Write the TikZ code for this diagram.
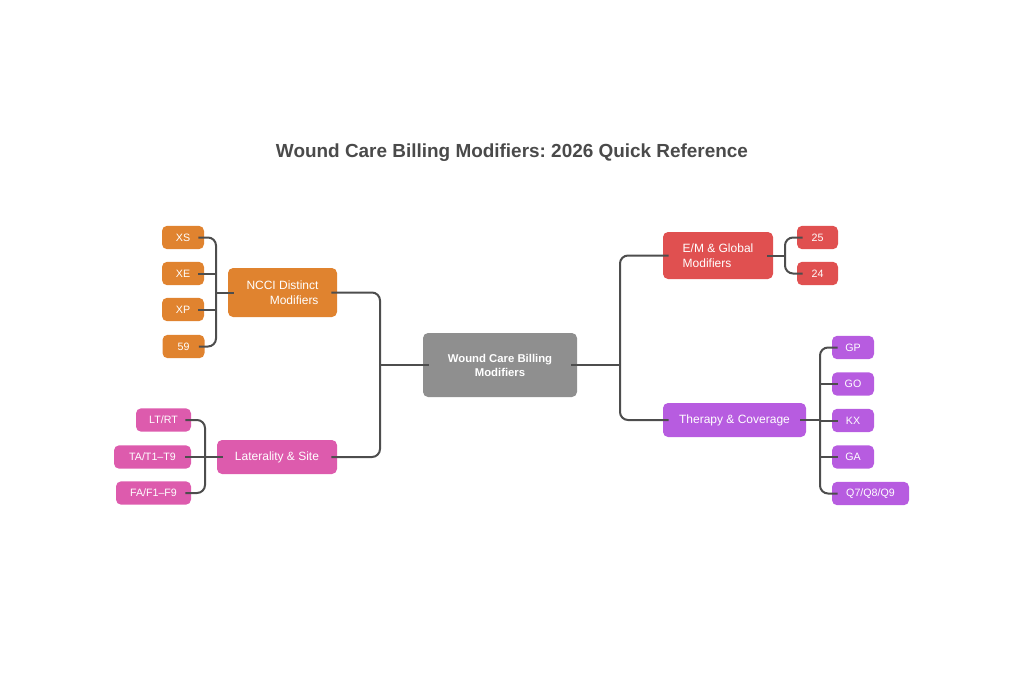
\documentclass[tikz,border=0pt]{standalone}
\usepackage{fontspec}
\setmainfont{Liberation Sans}
\usetikzlibrary{positioning}
\frenchspacing
\definecolor{hubgray}{HTML}{8F8F8F}
\definecolor{ncciorange}{HTML}{E0832F}
\definecolor{sitepink}{HTML}{DD5BAD}
\definecolor{emred}{HTML}{E05050}
\definecolor{therpurple}{HTML}{B75CE0}
\definecolor{linkgray}{HTML}{4D4D4D}
\definecolor{titlegray}{HTML}{4A4A4A}

\begin{document}
\begin{tikzpicture}[
  x=0.75pt, y=-0.75pt,
  base/.style={rounded corners=3.8pt, text=white, inner sep=0pt, align=center},
  hub/.style={base, fill=hubgray, minimum width=115.5pt, minimum height=48pt, font=\fontsize{8.5}{10.5}\selectfont\bfseries},
  branch/.style={base, minimum height=25.5pt, font=\fontsize{9}{11}\selectfont},
  leaf/.style={base, minimum width=31.5pt, minimum height=17.5pt, font=\fontsize{8}{9.5}\selectfont},
  link/.style={draw=linkgray, line width=1.5pt, rounded corners=6pt}
]
  \useasboundingbox (0,0) rectangle (1024,683);

  \node[font=\fontsize{14.2}{17}\selectfont\bfseries, text=titlegray] (title) at (512,152.5)
    {Wound Care Billing Modifiers: 2026 Quick Reference};

  % centre and branches
  \node[hub] (hub) at (500,365) {Wound Care Billing\\Modifiers};
  \node[branch, fill=ncciorange, minimum width=81.75pt, minimum height=36.75pt, align=right] (ncci) at (282.5,292.5) {NCCI Distinct\\Modifiers};
  \node[branch, fill=sitepink, minimum width=90pt] (site) at (277,457) {Laterality \& Site};
  \node[branch, fill=emred, minimum width=82.5pt, minimum height=35.25pt, align=left] (em) at (718,255.5) {E/M \& Global\\Modifiers};
  \node[branch, fill=therpurple, minimum width=107.25pt] (ther) at (734.5,420) {Therapy \& Coverage};

  % leaves
  \node[leaf, fill=ncciorange] (xs) at (183,237.5) {XS};
  \node[leaf, fill=ncciorange] (xe) at (183,273.5) {XE};
  \node[leaf, fill=ncciorange] (xp) at (183,309.5) {XP};
  \node[leaf, fill=ncciorange] (m59) at (183.5,346.5) {59};
  \node[leaf, fill=sitepink, minimum width=41.25pt] (ltrt) at (163.5,420) {LT/RT};
  \node[leaf, fill=sitepink, minimum width=57.75pt] (toe) at (152.5,457) {TA/T1--T9};
  \node[leaf, fill=sitepink, minimum width=56.25pt] (fing) at (153.5,493) {FA/F1--F9};
  \node[leaf, fill=emred, minimum width=30.75pt] (m25) at (817.5,237.5) {25};
  \node[leaf, fill=emred, minimum width=30.75pt] (m24) at (817.5,273.5) {24};
  \node[leaf, fill=therpurple] (gp) at (853,347.5) {GP};
  \node[leaf, fill=therpurple] (go) at (853,384) {GO};
  \node[leaf, fill=therpurple] (kx) at (853,420.5) {KX};
  \node[leaf, fill=therpurple] (ga) at (853,457) {GA};
  \node[leaf, fill=therpurple, minimum width=57.75pt] (qmod) at (870.5,493.5) {Q7/Q8/Q9};

  % spines
  \coordinate (spineL) at (380,0);
  \coordinate (spineR) at (620,0);
  \coordinate (spineN) at (216,0);
  \coordinate (spineS) at (205,0);
  \coordinate (spineE) at (785,0);
  \coordinate (spineT) at (820,0);

  % hub to branches
  \draw[link] ([xshift=4.5pt]hub.west) -- (spineL |- hub.west);
  \draw[link] ([xshift=-4.5pt]ncci.east) -| (spineL |- site.east) -- ([xshift=-4.5pt]site.east);
  \draw[link] ([xshift=-4.5pt]hub.east) -- (spineR |- hub.east);
  \draw[link] ([xshift=4.5pt]em.west) -| (spineR |- ther.west) -- ([xshift=4.5pt]ther.west);

  % branches to leaves
  \draw[link] ([xshift=-4.5pt]xs.east) -| (spineN |- m59.east) -- ([xshift=-4.5pt]m59.east);
  \foreach \n in {xe,xp}
    \draw[link] ([xshift=-4.5pt]\n.east) -- (spineN |- \n.east);
  \draw[link] ([xshift=4.5pt]ncci.west) -- (spineN |- ncci.west);

  \draw[link] ([xshift=-4.5pt]ltrt.east) -| (spineS |- fing.east) -- ([xshift=-4.5pt]fing.east);
  \draw[link] ([xshift=-4.5pt]toe.east) -- ([xshift=4.5pt]site.west);

  \draw[link] ([xshift=4.5pt]m25.west) -| (spineE |- m24.west) -- ([xshift=4.5pt]m24.west);
  \draw[link] ([xshift=-4.5pt]em.east) -- (spineE |- em.east);

  \draw[link] ([xshift=4.5pt]gp.west) -| (spineT |- qmod.west) -- ([xshift=4.5pt]qmod.west);
  \foreach \n in {go,kx,ga}
    \draw[link] ([xshift=4.5pt]\n.west) -- (spineT |- \n.west);
  \draw[link] ([xshift=-4.5pt]ther.east) -- (spineT |- ther.east);
\end{tikzpicture}
\end{document}
